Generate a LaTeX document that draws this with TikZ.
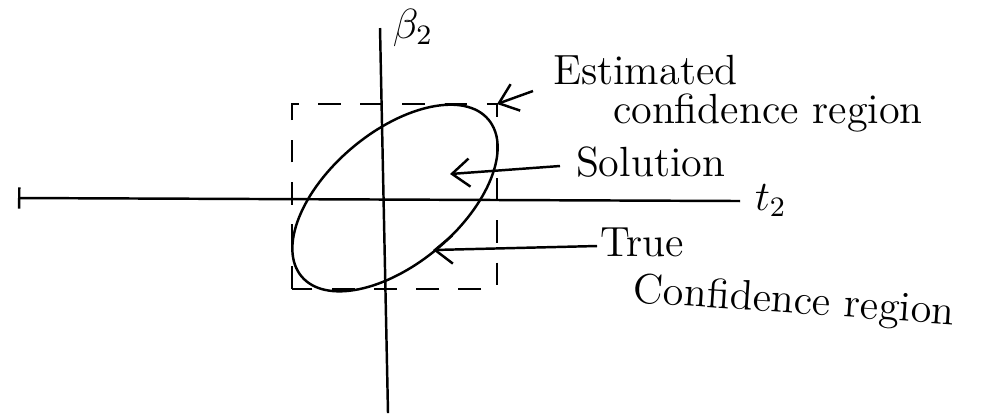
\documentclass[tikz,border=0pt]{standalone}
\usetikzlibrary{arrows.meta}
\begin{document}
\begin{tikzpicture}[x=0.01cm, y=-0.01cm, line width=0.7pt,
  lbl/.style={font=\fontsize{12}{14}\selectfont, inner sep=0.5pt, anchor=base west},
  lead/.style={-{Straight Barb[length=5pt,width=8pt]}, line width=0.7pt}]
\useasboundingbox (0,0) rectangle (986,417);
%% ------------------------------------------------------------------ axes
\coordinate (yTop) at (380,28);
\coordinate (yBot) at (388,413);
\coordinate (xL) at (18,198);
\coordinate (xR) at (740,201);
\draw (yTop) -- (yBot);
\draw[{Bar[width=6pt]}-] (xL) -- (xR);
\node[lbl] (tt) at (752,210) {$t_2$};
\node[lbl] (bb) at (390,38) {$\beta_2$};
%% ------------------------------------------------------------------ regions
% the estimated region, a dashed box
\coordinate (boxSW) at (292,289);
\coordinate (boxNE) at (497,104);
\draw[dash pattern=on 6.5pt off 5.5pt] (boxSW) rectangle (boxNE);
% the true region, a tilted ellipse
\draw[rotate around={40:(395,198)}] (395,198) ellipse (122 and 66);
\coordinate (sol) at (450,174);
\coordinate (tru) at (433,250);
%% ------------------------------------------------------------------ labels
\node[lbl] (est) at (550,84) {Estimated};
\node[lbl] (estb) at (610,123) {confidence region};
\node[lbl] (soln) at (573,176) {Solution};
\node[lbl] (tr) at (597,256) {True};
\node[lbl, rotate=-4] (trb) at (630,302) {Confidence region};
\draw[lead] ([xshift=-0.17cm,yshift=-0.07cm]est.base west) -- (boxNE);
\draw[lead] ([xshift=-0.13cm,yshift=0.1cm]soln.base west) -- (sol);
\draw[lead] ([yshift=0.1cm]tr.base west) -- (tru);
\end{tikzpicture}
\end{document}
